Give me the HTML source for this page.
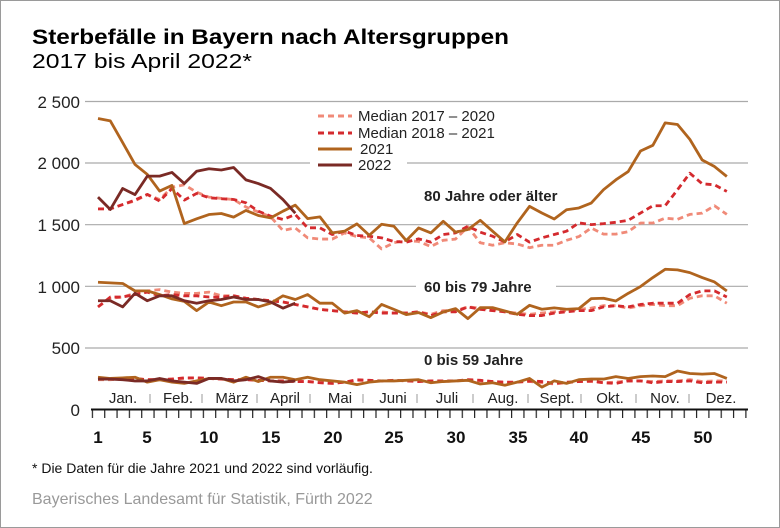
<!DOCTYPE html>
<html><head><meta charset="utf-8"><style>
html,body{margin:0;padding:0;background:#fff}
svg{display:block;font-family:"Liberation Sans",Arial,sans-serif}
</style></head><body>
<svg width="780" height="528" viewBox="0 0 780 528" xmlns="http://www.w3.org/2000/svg">
<defs>
<pattern id="tk" x="91.8" y="0" width="12.33" height="20" patternUnits="userSpaceOnUse">
<rect x="0" y="0" width="1.2" height="20" fill="#222"/>
</pattern>
</defs>
<rect x="0.5" y="0.5" width="779" height="527" fill="#fff" stroke="#9a9a9a"/>
<text x="32" y="44" font-size="21" font-weight="bold" textLength="477" lengthAdjust="spacingAndGlyphs">Sterbefälle in Bayern nach Altersgruppen</text>
<text x="32" y="68" font-size="20" textLength="220" lengthAdjust="spacingAndGlyphs">2017 bis April 2022*</text>
<g stroke="#aaa" stroke-width="1.2">
<line x1="85" y1="101.5" x2="748" y2="101.5"/>
<line x1="85" y1="163" x2="310" y2="163"/><line x1="407" y1="163" x2="748" y2="163"/>
<line x1="85" y1="224.7" x2="748" y2="224.7"/>
<line x1="85" y1="286.3" x2="416" y2="286.3"/><line x1="556" y1="286.3" x2="748" y2="286.3"/>
<line x1="85" y1="348" x2="748" y2="348"/>
</g>
<g font-size="17" text-anchor="end" fill="#222">
<text x="80" y="108">2 500</text><text x="80" y="169">2 000</text><text x="80" y="231">1 500</text>
<text x="80" y="293">1 000</text><text x="80" y="354">500</text><text x="80" y="416">0</text>
</g>
<rect x="91.5" y="409" width="657" height="9" fill="url(#tk)"/>
<line x1="91" y1="409.5" x2="748" y2="409.5" stroke="#111" stroke-width="2"/>
<g stroke="#999" stroke-width="1">
<line x1="150" y1="394" x2="150" y2="403"/><line x1="202" y1="394" x2="202" y2="403"/>
<line x1="257" y1="394" x2="257" y2="403"/><line x1="310" y1="394" x2="310" y2="403"/>
<line x1="363" y1="394" x2="363" y2="403"/><line x1="417" y1="394" x2="417" y2="403"/>
<line x1="473" y1="394" x2="473" y2="403"/><line x1="528" y1="394" x2="528" y2="403"/>
<line x1="581" y1="394" x2="581" y2="403"/><line x1="636" y1="394" x2="636" y2="403"/>
<line x1="689" y1="394" x2="689" y2="403"/>
</g>
<g font-size="15" fill="#222" text-anchor="middle">
<text x="123" y="403">Jan.</text><text x="178" y="403">Feb.</text><text x="232" y="403">März</text>
<text x="285" y="403">April</text><text x="340" y="403">Mai</text><text x="393" y="403">Juni</text>
<text x="447" y="403">Juli</text><text x="503" y="403">Aug.</text><text x="557" y="403">Sept.</text>
<text x="610" y="403">Okt.</text><text x="665" y="403">Nov.</text><text x="721" y="403">Dez.</text>
</g>
<g font-size="17" font-weight="bold" fill="#111" text-anchor="middle">
<text x="98" y="443">1</text><text x="147" y="443">5</text><text x="209" y="443">10</text>
<text x="271" y="443">15</text><text x="333" y="443">20</text><text x="394" y="443">25</text>
<text x="456" y="443">30</text><text x="518" y="443">35</text><text x="579" y="443">40</text>
<text x="641" y="443">45</text><text x="703" y="443">50</text>
</g>
<g transform="translate(98,409.3) scale(12.33,-0.12336)" fill="none" stroke-linejoin="round">
<g stroke-width="2.8" vector-effect="non-scaling-stroke">
<polyline vector-effect="non-scaling-stroke" stroke-width="2.8" stroke-dasharray="6,4" stroke="#f08a78" points="0,1625 1,1625 2,1660 3,1690 4,1740 5,1700 6,1800 7,1820 8,1760 9,1720 10,1710 11,1700 12,1640 13,1600 14,1560 15,1450 16,1470 17,1390 18,1380 19,1380 20,1430 21,1400 22,1390 23,1300 24,1350 25,1370 26,1360 27,1320 28,1370 29,1380 30,1480 31,1350 32,1330 33,1350 34,1340 35,1310 36,1330 37,1330 38,1370 39,1400 40,1470 41,1420 42,1420 43,1440 44,1510 45,1510 46,1550 47,1540 48,1580 49,1590 50,1650 51,1580"/>
<polyline vector-effect="non-scaling-stroke" stroke-width="2.8" stroke-dasharray="6,4" stroke="#d42a2e" points="0,1625 1,1625 2,1660 3,1696 4,1742 5,1688 6,1790 7,1696 8,1750 9,1715 10,1707 11,1701 12,1674 13,1606 14,1566 15,1539 16,1579 17,1471 18,1471 19,1417 20,1444 21,1409 22,1403 23,1390 24,1360 25,1355 26,1382 27,1355 28,1417 29,1430 30,1484 31,1436 32,1403 33,1357 34,1417 35,1355 36,1390 37,1417 38,1444 39,1511 40,1497 41,1505 42,1516 43,1532 44,1591 45,1650 46,1650 47,1780 48,1914 49,1828 50,1820 51,1766"/>
<polyline vector-effect="non-scaling-stroke" stroke-width="2.8" stroke="#b0641e" points="0,2357 1,2338 2,2162 3,1985 4,1904 5,1769 6,1815 7,1506 8,1544 9,1579 10,1587 11,1558 12,1612 13,1571 14,1552 15,1606 16,1655 17,1546 18,1560 19,1430 20,1444 21,1503 22,1411 23,1500 24,1484 25,1368 26,1470 27,1430 28,1524 29,1436 30,1457 31,1532 32,1444 33,1357 34,1511 35,1645 36,1591 37,1543 38,1618 39,1632 40,1672 41,1780 42,1860 43,1927 44,2094 45,2140 46,2322 47,2309 48,2188 49,2021 50,1968 51,1887"/>
<polyline vector-effect="non-scaling-stroke" stroke-width="2.8" stroke="#7a2a25" points="0,1720 1,1620 2,1790 3,1740 4,1890 5,1890 6,1920 7,1830 8,1930 9,1950 10,1940 11,1960 12,1860 13,1830 14,1790 15,1700 16,1590"/>
<polyline vector-effect="non-scaling-stroke" stroke-width="2.8" stroke-dasharray="6,4" stroke="#f08a78" points="0,830 1,900 2,910 3,940 4,960 5,970 6,950 7,940 8,940 9,950 10,920 11,920 12,900 13,890 14,880 15,870 16,850 17,830 18,810 19,800 20,790 21,780 22,790 23,790 24,780 25,780 26,790 27,770 28,800 29,800 30,830 31,820 32,810 33,790 34,780 35,770 36,780 37,790 38,800 39,810 40,820 41,840 42,840 43,820 44,840 45,850 46,840 47,840 48,900 49,920 50,920 51,860"/>
<polyline vector-effect="non-scaling-stroke" stroke-width="2.8" stroke-dasharray="6,4" stroke="#d42a2e" points="0,830 1,910 2,910 3,930 4,950 5,920 6,930 7,920 8,920 9,910 10,910 11,920 12,900 13,890 14,880 15,870 16,850 17,830 18,810 19,800 20,790 21,780 22,790 23,780 24,780 25,780 26,790 27,760 28,790 29,790 30,830 31,810 32,800 33,790 34,770 35,760 36,760 37,780 38,790 39,800 40,800 41,830 42,840 43,830 44,850 45,860 46,860 47,860 48,930 49,960 50,960 51,910"/>
<polyline vector-effect="non-scaling-stroke" stroke-width="2.8" stroke="#b0641e" points="0,1030 1,1025 2,1020 3,960 4,960 5,930 6,895 7,875 8,800 9,870 10,840 11,870 12,870 13,830 14,860 15,920 16,890 17,930 18,860 19,860 20,780 21,800 22,750 23,850 24,810 25,768 26,784 27,743 28,789 29,816 30,735 31,824 32,824 33,797 34,770 35,843 36,811 37,822 38,811 39,816 40,897 41,900 42,878 43,940 44,995 45,1068 46,1135 47,1130 48,1108 49,1068 50,1032 51,959"/>
<polyline vector-effect="non-scaling-stroke" stroke-width="2.8" stroke="#7a2a25" points="0,880 1,880 2,830 3,940 4,880 5,920 6,920 7,880 8,860 9,880 10,890 11,910 12,890 13,890 14,870 15,820 16,860"/>
<polyline vector-effect="non-scaling-stroke" stroke-width="2.8" stroke-dasharray="6,4" stroke="#f08a78" points="0,240 1,240 2,245 3,250 4,240 5,240 6,245 7,250 8,255 9,250 10,245 11,240 12,240 13,235 14,230 15,230 16,225 17,225 18,220 19,210 20,220 21,235 22,230 23,230 24,235 25,230 26,230 27,230 28,225 29,230 30,235 31,230 32,225 33,215 34,220 35,225 36,215 37,205 38,215 39,225 40,225 41,215 42,220 43,230 44,230 45,225 46,230 47,230 48,240 49,225 50,230 51,230"/>
<polyline vector-effect="non-scaling-stroke" stroke-width="2.8" stroke-dasharray="6,4" stroke="#d42a2e" points="0,245 1,245 2,250 3,250 4,240 5,240 6,245 7,255 8,255 9,250 10,245 11,240 12,240 13,235 14,230 15,230 16,225 17,225 18,215 19,210 20,220 21,240 22,235 23,230 24,235 25,230 26,225 27,230 28,230 29,230 30,240 31,235 32,225 33,220 34,220 35,230 36,225 37,210 38,220 39,225 40,230 41,215 42,210 43,230 44,230 45,215 46,225 47,225 48,230 49,215 50,220 51,220"/>
<polyline vector-effect="non-scaling-stroke" stroke-width="2.8" stroke="#b0641e" points="0,260 1,250 2,255 3,260 4,220 5,240 6,220 7,210 8,230 9,250 10,250 11,220 12,260 13,225 14,260 15,260 16,240 17,260 18,240 19,230 20,220 21,200 22,220 23,230 24,230 25,235 26,240 27,215 28,225 29,230 30,235 31,205 32,215 33,195 34,220 35,250 36,180 37,230 38,210 39,240 40,245 41,245 42,265 43,250 44,265 45,270 46,265 47,310 48,290 49,285 50,290 51,250"/>
<polyline vector-effect="non-scaling-stroke" stroke-width="2.8" stroke="#7a2a25" points="0,245 1,245 2,240 3,230 4,230 5,250 6,230 7,220 8,210 9,250 10,250 11,230 12,240 13,265 14,230 15,220 16,230"/>
</g>
</g>
<g font-size="15" font-weight="bold" fill="#222">
<text x="424" y="201">80 Jahre oder älter</text>
<text x="424" y="292">60 bis 79 Jahre</text>
<text x="424" y="365">0 bis 59 Jahre</text>
</g>
<g stroke-width="3">
<line x1="318" y1="116" x2="352" y2="116" stroke="#f08a78" stroke-dasharray="6,4"/>
<line x1="318" y1="133" x2="352" y2="133" stroke="#d42a2e" stroke-dasharray="6,4"/>
<line x1="318" y1="149" x2="352" y2="149" stroke="#b0641e"/>
<line x1="318" y1="165" x2="352" y2="165" stroke="#7a2a25"/>
</g>
<g font-size="15" fill="#222">
<text x="358" y="121">Median 2017 – 2020</text><text x="358" y="138">Median 2018 – 2021</text>
<text x="360" y="154">2021</text><text x="358" y="170">2022</text>
</g>
<text x="32" y="473" font-size="14" fill="#111">* Die Daten für die Jahre 2021 und 2022 sind vorläufig.</text>
<text x="32" y="504" font-size="16" fill="#999">Bayerisches Landesamt für Statistik, Fürth 2022</text>
</svg>
</body></html>
